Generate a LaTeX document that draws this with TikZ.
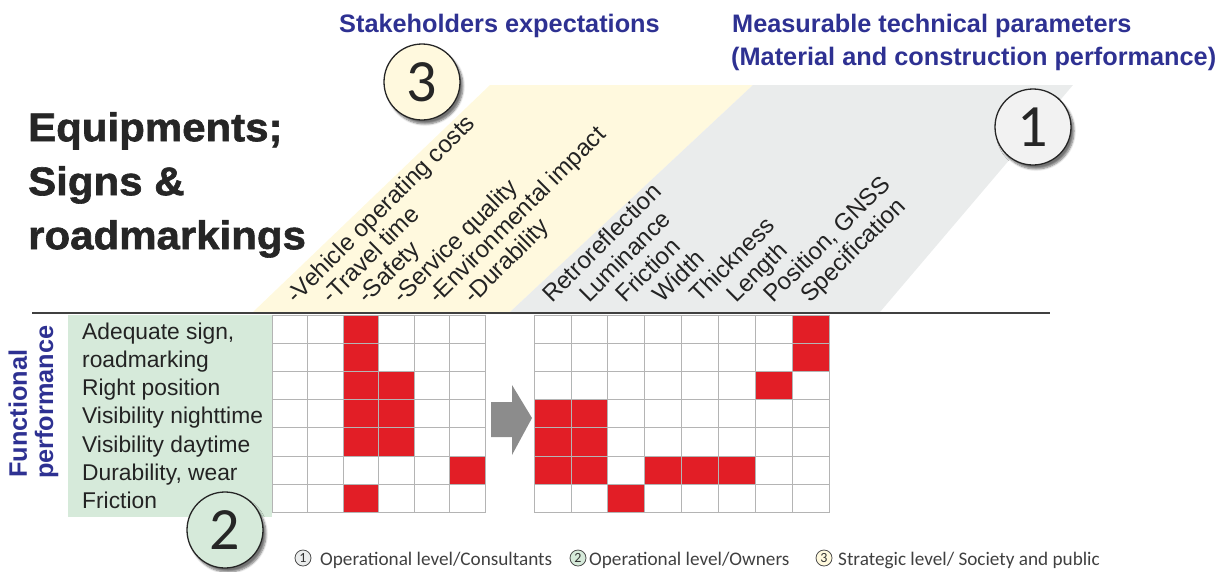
\documentclass[tikz,border=0pt]{standalone}
\usepackage{fontspec}
\setmainfont{Liberation Sans}
\newfontfamily\titlefont[FakeStretch=1.05,FakeBold=1.5]{Liberation Sans Bold}
\newfontfamily\numfont{Carlito}
\usetikzlibrary{shadows.blur}
\definecolor{headblue}{RGB}{46,49,146}
\definecolor{cellred}{RGB}{226,30,38}
\definecolor{levelgreen}{RGB}{214,234,218}
\definecolor{levelyellow}{RGB}{255,249,222}
\definecolor{levelgray}{RGB}{234,236,236}
\definecolor{gridgray}{RGB}{180,180,180}
\definecolor{textgray}{RGB}{35,35,35}
\tikzset{
  bignum/.style={circle, draw=black!85, line width=1.3pt, minimum size=76pt, inner sep=0pt,
    text=black!85, font=\numfont\fontsize{60}{60}\selectfont,
    blur shadow={shadow xshift=3pt, shadow yshift=-4pt, shadow blur steps=6, shadow opacity=55}},
  smallnum/.style={circle, draw=black!70, line width=0.8pt, minimum size=16pt, inner sep=0pt,
    text=black!80, font=\numfont\fontsize{14}{14}\selectfont},
  legendtext/.style={anchor=base west, inner sep=0pt, text=black!75, font=\numfont\fontsize{19.2}{19.2}\selectfont},
  header/.style={anchor=base west, inner sep=0pt, text=headblue, font=\bfseries\fontsize{25.3}{25.3}\selectfont},
  rowlabel/.style={anchor=base west, inner sep=0pt, text=textgray, font=\fontsize{22.8}{22.8}\selectfont},
  collabel/.style={anchor=base west, inner sep=0pt, rotate=45, text=textgray, font=\fontsize{24}{24}\selectfont},
  gridline/.style={draw=gridgray, line width=0.8pt},
}

\begin{document}
\begin{tikzpicture}[x=1pt, y=-1pt]
  \useasboundingbox (0,0) rectangle (1231,571);

  % Levels behind the column labels
  \fill[levelyellow] (253,312) -- (490,85) -- (753,85) -- (510,312) -- cycle;
  \fill[levelgray] (510,312) -- (753,85) -- (1073,85) -- (880,312) -- cycle;
  \fill[levelgreen] (68,315) rectangle (272,517);

  % Title and headers
  \node[anchor=north west, inner sep=0pt, align=left, text=black!85,
    font=\titlefont\fontsize{40}{54}\selectfont] (title) at (28,112) {Equipments;\\Signs \&\\roadmarkings};
  \node[header] (stake) at (339,32) {Stakeholders expectations};
  \node[header] (measure) at (732,32) {Measurable technical parameters};
  \node[header] (material) at (731,65) {(Material and construction performance)};
  \node[header, rotate=90] (func) at (27,478) {Functional};
  \node[header, rotate=90] (perf) at (53,479) {performance};

  % Red cells
  \foreach \c/\r in {2/0, 2/1, 2/2, 2/3, 2/4, 3/2, 3/3, 3/4, 5/5, 2/6}
    \fill[cellred] (272+35.5*\c, 315+28.2*\r) rectangle ++(35.5,28.2);
  \foreach \c/\r in {7/0, 7/1, 6/2, 0/3, 1/3, 0/4, 1/4, 0/5, 1/5, 3/5, 4/5, 5/5, 2/6}
    \fill[cellred] (534+36.9*\c, 315+28.2*\r) rectangle ++(36.9,28.2);

  % Grids
  \foreach \c in {0,...,5}
    \foreach \r in {0,...,6}
      \draw[gridline] (272+35.5*\c, 315+28.2*\r) rectangle ++(35.5,28.2);
  \foreach \c in {0,...,7}
    \foreach \r in {0,...,6}
      \draw[gridline] (534+36.9*\c, 315+28.2*\r) rectangle ++(36.9,28.2);

  % Row labels
  \foreach \t [count=\i] in {{Adequate sign,}, roadmarking, Right position, Visibility nighttime,
      Visibility daytime, {Durability, wear}, Friction}
    \node[rowlabel] (row\i) at (82, 311+28.2*\i) {\t};

  % Column labels
  \foreach \t [count=\i from 0] in {-Vehicle operating costs, -Travel time, -Safety,
      -Service quality, -Environmental impact, -Durability}
    \node[collabel] (expect\i) at (272+35.5*\i+24, 305) {\t};
  \foreach \t [count=\i from 0] in {Retroreflection, Luminance, Friction, Width,
      Thickness, Length, {Position, GNSS}, Specification}
    \node[collabel] (param\i) at (534+36.9*\i+18, 304) {\t};

  % Separator line
  \draw[line width=2.5pt, black!75] (32,313) -- (1050,313);

  % Arrow between the grids
  \fill[black!45] (491,402) -- (512,402) -- (512,385) -- (532,418) -- (512,455)
    -- (512,437) -- (491,437) -- cycle;

  % Level circles
  \node[bignum, fill=levelyellow] (lvl3) at (422,82) {3};
  \node[bignum, fill=black!5] (lvl1) at (1033,127) {1};
  \node[bignum, fill=levelgreen] (lvl2) at (225,530) {2};

  % Legend
  \node[smallnum, fill=levelgray] (leg1) at (303,558) {1};
  \node[legendtext] (legtext1) at (320,565) {Operational level/Consultants};
  \node[smallnum, fill=levelgreen] (leg2) at (578,558) {2};
  \node[legendtext] (legtext2) at (589,565) {Operational level/Owners};
  \node[smallnum, fill=levelyellow] (leg3) at (824,558) {3};
  \node[legendtext] (legtext3) at (838,565) {Strategic level/ Society and public};
\end{tikzpicture}
\end{document}
